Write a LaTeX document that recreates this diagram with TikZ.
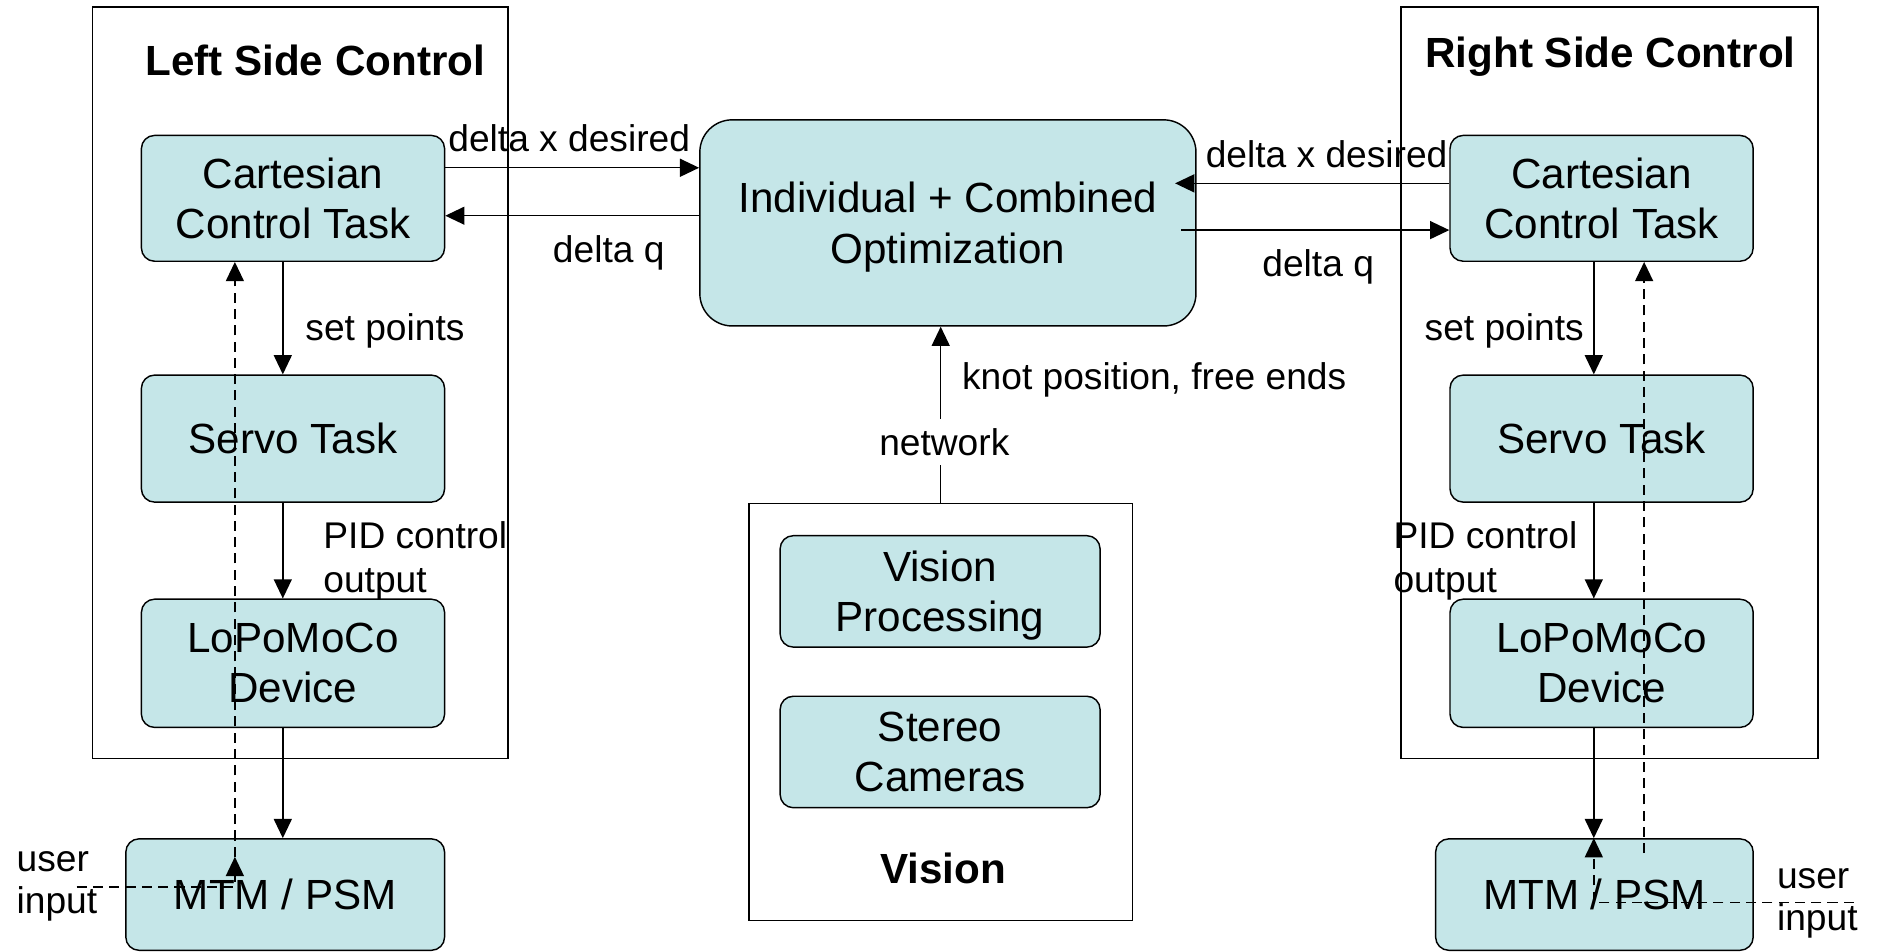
\documentclass[tikz,border=0pt]{standalone}
\usepackage{fontspec}
\setmainfont{Liberation Sans}
\usetikzlibrary{arrows.meta}
\definecolor{taskfill}{RGB}{197,230,232}

\tikzset{
  task/.style={draw, fill=taskfill, rounded corners=5.5pt, line width=0.6pt, align=center, font=\fontsize{17.6}{21}\selectfont, inner sep=0pt},
  frame/.style={draw, line width=0.6pt, inner sep=0pt},
  lbl/.style={font=\fontsize{15.5}{18.5}\selectfont, inner sep=0.75pt, align=left},
  ttl/.style={font=\bfseries\fontsize{17.6}{21}\selectfont, inner sep=0.75pt},
  link/.style={line width=0.6pt, -{Triangle[length=8pt,width=7.5pt]}},
  userlink/.style={link, dash pattern=on 4.2pt off 2.6pt},
}

\begin{document}
\begin{tikzpicture}[x=0.5pt,y=0.5pt,yscale=-1,xscale=1]
\useasboundingbox (0,0) rectangle (1568,794);

%Shape: Rectangle [frames]
\node[frame, minimum width=173.5pt, minimum height=313.5pt] (leftframe) at (250.5,319.5) {};
\node[frame, minimum width=174pt, minimum height=313.5pt] (rightframe) at (1343,319.5) {};
\node[frame, minimum width=160pt, minimum height=174pt] (visframe) at (785,594) {};

%Shape: Rounded Rect [left side]
\node[task, minimum width=126.5pt, minimum height=52.5pt] (cartL) at (244.5,165.5) {Cartesian\\Control Task};
\node[task, minimum width=126.5pt, minimum height=53pt] (servoL) at (244.5,366) {Servo Task};
\node[task, minimum width=126.5pt, minimum height=53.5pt] (lopoL) at (244.5,553.5) {LoPoMoCo\\Device};
\node[task, minimum width=133pt, minimum height=46.5pt] (mtmL) at (238,746.5) {MTM / PSM};

%Shape: Rounded Rect [middle]
\node[task, rounded corners=13.5pt, minimum width=207pt, minimum height=86pt, font=\fontsize{17.6}{21.5}\selectfont, text depth=0pt] (opt) at (791,186) {Individual + Combined\\Optimization};
\node[task, minimum width=133.5pt, minimum height=46.5pt, text depth=0pt] (visproc) at (784.5,493.5) {Vision\\Processing};
\node[task, minimum width=133.5pt, minimum height=46.5pt] (stereo) at (784.5,627.5) {Stereo\\Cameras};

%Shape: Rounded Rect [right side]
\node[task, minimum width=126.5pt, minimum height=52.5pt] (cartR) at (1336.5,165.5) {Cartesian\\Control Task};
\node[task, minimum width=126.5pt, minimum height=53pt] (servoR) at (1336.5,366) {Servo Task};
\node[task, minimum width=126.5pt, minimum height=53.5pt] (lopoR) at (1336.5,553.5) {LoPoMoCo\\Device};
\node[task, minimum width=132.5pt, minimum height=46.5pt] (mtmR) at (1330.5,746.5) {MTM / PSM};

% Text Node
\node[ttl] (lefttitle) at (263,50) {Left Side Control};
% Text Node
\node[ttl] (righttitle) at (1344,47) {Right Side Control};
% Text Node
\node[ttl] (vistitle) at (787,725) {Vision};

%Straight Lines [left <-> optimization]
\draw[link] (cartL.east |- 0,140) -- (opt.west |- 0,140);
\draw[link] (opt.west |- 0,180) -- (cartL.east |- 0,180);
%Straight Lines [right <-> optimization]
\coordinate (optin) at ([xshift=-9pt]opt.east);
\coordinate (optout) at ([xshift=-6.5pt]opt.east);
\draw[link] (cartR.west |- 0,153) -- (optin |- 0,153);
\draw[link] (optout |- 0,192) -- (cartR.west |- 0,192);

%Straight Lines [left chain]
\draw[link] (cartL.south -| 236,0) -- (servoL.north -| 236,0);
\draw[link] (servoL.south -| 236,0) -- (lopoL.north -| 236,0);
\draw[link] (lopoL.south -| 236,0) -- (mtmL.north -| 236,0);
%Straight Lines [right chain]
\draw[link] (cartR.south -| 1330,0) -- (servoR.north -| 1330,0);
\draw[link] (servoR.south -| 1330,0) -- (lopoR.north -| 1330,0);
\draw[link] (lopoR.south -| 1330,0) -- (mtmR.north -| 1330,0);

%Straight Lines [vision -> optimization]
\draw[link] (visframe.north) -- (visframe.north |- opt.south);
% Text Node
\node[lbl, fill=white, inner ysep=4pt] (net) at (788,369) {network};

%Straight Lines [user input, dashed]
\coordinate (uL) at (64,740);
\coordinate (inL) at (196,715);
\draw[userlink] (uL) -| (inL);
\draw[userlink] (inL) -- (inL |- cartL.south);
\coordinate (uR) at (1547,753);
\draw[userlink] (uR) -| (mtmR.north -| 1330,0);
\coordinate (outR) at (1372,712);
\draw[userlink] (outR) -- (outR |- cartR.south);

% Text Node
\node[lbl] (dxL) at (475,115) {delta x desired};
% Text Node
\node[lbl] (dqL) at (508,211) {delta q};
% Text Node
\node[lbl] (dxR) at (1107,129) {delta x desired};
% Text Node
\node[lbl] (dqR) at (1100,223) {delta q};
% Text Node
\node[lbl, anchor=west] (spL) at (253,276) {set points};
% Text Node
\node[lbl, anchor=west] (spR) at (1187,276) {set points};
% Text Node
\node[lbl, anchor=west] (pidL) at (268,468) {PID control\\output};
% Text Node
\node[lbl, anchor=west] (pidR) at (1161,468) {PID control\\output};
% Text Node
\node[lbl, anchor=west] (knot) at (801,317) {knot position, free ends};
% Text Node
\node[lbl, anchor=west, font=\fontsize{15.5}{17.5}\selectfont] (userL) at (12,740) {user\\input};
% Text Node
\node[lbl, anchor=west, font=\fontsize{15.5}{17.5}\selectfont] (userR) at (1481,754) {user\\input};

\end{tikzpicture}
\end{document}
